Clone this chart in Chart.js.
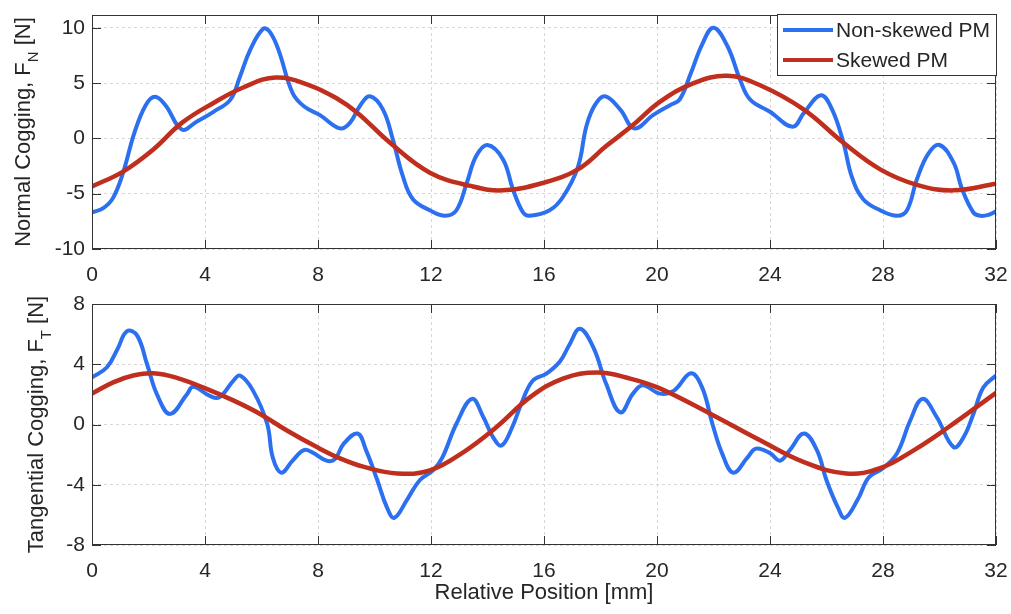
<!DOCTYPE html>
<html>
<head>
<meta charset="utf-8">
<title>Cogging force</title>
<script src="https://cdn.jsdelivr.net/npm/chart.js@4.4.1/dist/chart.umd.min.js"></script>
<style>
  body { margin: 0; background: #fff; }
  #wrap { position: relative; width: 1011px; height: 614px; background: #fff; }
  canvas { position: absolute; left: 0; }
</style>
</head>
<body>
<div id="wrap">
  <canvas id="normalChart" width="1011" height="290" style="top:0"></canvas>
  <canvas id="tangChart" width="1011" height="324" style="top:290px"></canvas>
</div>
<script>
// axis ticks
const xTicks = [0, 4, 8, 12, 16, 20, 24, 28, 32];
const normalTicks = [-10, -5, 0, 5, 10];
const tangTicks = [-8, -4, 0, 4, 8];
const seriesNames = ['Non-skewed PM', 'Skewed PM'];

// normal cogging, non-skewed magnets
const normalPos = [0, 0.4, 0.74, 1.1, 1.5, 1.9, 2.23, 2.6, 3.18, 3.7, 4.3, 4.9, 5.24, 5.6, 6.06, 6.3, 6.6, 7.1, 7.5, 8.07, 8.78, 9.13, 9.5, 9.84, 10.3, 10.65, 11.0, 11.36, 11.96, 12.5, 12.9, 13.27, 13.6, 14.0, 14.55, 14.9, 15.26, 15.5, 16.2, 16.67, 17.2, 17.5, 17.8, 18.16, 18.7, 19.2, 19.86, 20.46, 20.8, 21.2, 21.6, 22.0, 22.5, 22.94, 23.3, 24.0, 24.8, 25.2, 25.8, 26.2, 26.6, 26.9, 27.3, 27.9, 28.5, 28.85, 29.2, 29.6, 30.0, 30.5, 30.8, 31.2, 31.45, 31.75, 32];
const normalNonSkewed = [-6.7, -6.3, -5.4, -3.1, 0.5, 3.0, 3.76, 3.0, 0.8, 1.5, 2.4, 3.5, 5.6, 8.0, 9.9, 9.6, 8.0, 4.1, 2.9, 2.1, 0.9, 1.4, 3.0, 3.8, 2.6, -0.1, -3.4, -5.5, -6.5, -7.0, -6.5, -4.0, -1.6, -0.6, -1.9, -4.6, -6.7, -7.0, -6.5, -5.3, -2.6, 1.1, 3.0, 3.8, 2.6, 0.9, 2.1, 3.0, 3.5, 5.9, 8.5, 10.0, 8.3, 5.3, 3.5, 2.4, 1.05, 2.3, 3.9, 2.6, -0.4, -3.5, -5.5, -6.5, -7.0, -6.5, -3.7, -1.4, -0.6, -2.2, -4.6, -6.7, -7.0, -6.9, -6.6];

// normal cogging, skewed magnets
const normalSkewedPos = [0, 1.1, 2.17, 3.18, 4.3, 5.35, 6.5, 7.7, 8.67, 9.4, 10.55, 11.96, 13.4, 14.55, 16.0, 17.2, 18.2, 19.15, 20.1, 21.3, 22.5, 23.65, 25.2, 26.6, 27.9, 29.2, 30.5, 32];
const normalSkewed = [-4.35, -3.0, -1.0, 1.4, 3.2, 4.6, 5.5, 4.8, 3.6, 2.3, -0.4, -3.1, -4.3, -4.7, -4.0, -2.8, -0.7, 1.2, 3.3, 5.0, 5.65, 4.8, 2.6, -0.4, -2.8, -4.2, -4.7, -4.1];

// tangential cogging, non-skewed magnets
const tangPos = [0, 0.53, 0.9, 1.24, 1.6, 1.95, 2.3, 2.76, 3.36, 3.58, 4.17, 4.5, 5.0, 5.24, 5.7, 6.2, 6.4, 6.7, 7.1, 7.5, 7.8, 8.3, 8.6, 8.9, 9.4, 9.7, 10.1, 10.44, 10.7, 11.15, 11.6, 12.07, 12.4, 12.9, 13.45, 13.85, 14.2, 14.5, 14.87, 15.2, 15.6, 16.1, 16.57, 16.9, 17.27, 17.75, 18.2, 18.7, 19.15, 19.5, 20.1, 20.6, 21.2, 21.6, 21.96, 22.3, 22.7, 23.2, 23.5, 24.0, 24.35, 24.7, 25.2, 25.66, 26.0, 26.4, 26.65, 27.1, 27.5, 28.0, 28.5, 28.96, 29.4, 29.9, 30.5, 30.85, 31.2, 31.55, 32];
const tangNonSkewed = [3.13, 3.8, 5.0, 6.2, 5.9, 4.0, 2.0, 0.7, 2.0, 2.5, 1.9, 1.8, 2.9, 3.25, 2.25, 0.05, -2.2, -3.2, -2.4, -1.7, -1.85, -2.4, -2.3, -1.3, -0.6, -1.7, -3.7, -5.5, -6.2, -5.0, -3.7, -3.05, -2.2, 0.05, 1.7, 0.5, -0.85, -1.4, -0.2, 1.4, 2.9, 3.4, 4.2, 5.3, 6.35, 5.1, 2.7, 0.8, 2.05, 2.6, 2.05, 2.25, 3.4, 2.45, 0.05, -1.9, -3.2, -2.2, -1.6, -1.9, -2.4, -1.7, -0.6, -1.7, -3.7, -5.5, -6.2, -5.0, -3.5, -2.9, -1.9, 0.25, 1.7, 0.5, -1.5, -0.85, 0.7, 2.45, 3.25];

// tangential cogging, skewed magnets
const tangSkewedPos = [0, 0.75, 1.46, 2.17, 3.0, 3.95, 5.0, 5.95, 6.9, 7.96, 8.78, 9.6, 10.8, 11.96, 13.1, 14.3, 15.5, 16.67, 17.9, 19.05, 20.1, 21.9, 23.65, 25.2, 26.7, 27.9, 29.1, 30.3, 32];
const tangSkewed = [2.05, 2.8, 3.25, 3.4, 3.1, 2.45, 1.6, 0.7, -0.4, -1.5, -2.25, -2.8, -3.25, -3.05, -1.9, -0.2, 1.8, 3.05, 3.45, 3.05, 2.4, 0.7, -1.05, -2.5, -3.25, -2.9, -1.7, -0.2, 2.1];

const BLUE = 'rgb(44, 112, 240)';
const RED = 'rgb(192, 46, 30)';
const INK = '#262626';
const FONT = '"Liberation Sans", Arial, Helvetica, sans-serif';

function pts(xs, ys) {
    return xs.map((x, i) => ({ x: x, y: ys[i] }));
}

function tickList(values) {
    return function (scale) {
        scale.ticks = values.map(v => ({ value: v }));
    };
}

// rotated y label with a subscript, plus the boxed frame with inward ticks
const framePlugin = {
    id: 'frame',
    afterDatasetsDraw(chart, args, opts) {
        const ctx = chart.ctx;
        const a = chart.chartArea;
        const xs = chart.scales.x;
        const ys = chart.scales.y;
        const len = 9;
        ctx.save();
        ctx.strokeStyle = '#333';
        ctx.lineWidth = 1;
        ctx.beginPath();
        xs.ticks.forEach(t => {
            const px = Math.round(xs.getPixelForValue(t.value)) + 0.5;
            ctx.moveTo(px, a.bottom); ctx.lineTo(px, a.bottom - len);
            ctx.moveTo(px, a.top); ctx.lineTo(px, a.top + len);
        });
        ys.ticks.forEach(t => {
            const py = Math.round(ys.getPixelForValue(t.value)) + 0.5;
            ctx.moveTo(a.left, py); ctx.lineTo(a.left + len, py);
            ctx.moveTo(a.right, py); ctx.lineTo(a.right - len, py);
        });
        ctx.stroke();
        ctx.strokeRect(Math.round(a.left) + 0.5, Math.round(a.top) + 0.5,
            Math.round(a.width) - 1, Math.round(a.height) - 1);
        ctx.restore();
    },
    afterDraw(chart, args, opts) {
        const ctx = chart.ctx;
        const a = chart.chartArea;

        // y axis title
        const t = opts.title;
        ctx.save();
        ctx.fillStyle = INK;
        ctx.textBaseline = 'alphabetic';
        ctx.translate(opts.titleX, (a.top + a.bottom) / 2);
        ctx.rotate(-Math.PI / 2);
        ctx.font = '22px ' + FONT;
        const w1 = ctx.measureText(t[0]).width;
        const w3 = ctx.measureText(t[2]).width;
        ctx.font = '15px ' + FONT;
        const w2 = ctx.measureText(t[1]).width;
        let x0 = -(w1 + w2 + w3) / 2;
        ctx.font = '22px ' + FONT;
        ctx.fillText(t[0], x0, 0);
        ctx.font = '15px ' + FONT;
        ctx.fillText(t[1], x0 + w1, 8);
        ctx.font = '22px ' + FONT;
        ctx.fillText(t[2], x0 + w1 + w2, 0);
        ctx.restore();

        if (!opts.legend) return;
        // legend box in the top right corner
        const box = { left: 777, top: 14, right: 997, bottom: 76 };
        ctx.save();
        ctx.fillStyle = '#fff';
        ctx.fillRect(box.left, box.top, box.right - box.left, box.bottom - box.top);
        ctx.strokeStyle = '#333';
        ctx.lineWidth = 1;
        ctx.strokeRect(box.left + 0.5, box.top + 0.5, box.right - box.left - 1, box.bottom - box.top - 1);
        ctx.font = '21px ' + FONT;
        ctx.textBaseline = 'middle';
        const rows = [30, 60];
        const order = chart.data.datasets.slice().sort((p, q) => seriesNames.indexOf(p.label) - seriesNames.indexOf(q.label));
        order.forEach((ds, i) => {
            ctx.strokeStyle = ds.borderColor;
            ctx.lineWidth = 4;
            ctx.beginPath();
            ctx.moveTo(783, rows[i]);
            ctx.lineTo(833, rows[i]);
            ctx.stroke();
            ctx.fillStyle = INK;
            ctx.fillText(ds.label, 836, rows[i] + 1);
        });
        ctx.restore();
    }
};

function makeChart(id, opts) {
    const ctx = document.getElementById(id).getContext('2d');
    return new Chart(ctx, {
        type: 'line',
        data: {
            datasets: [{
                label: seriesNames[0],
                data: opts.nonSkewed,
                borderColor: BLUE,
                borderWidth: 4,
                pointRadius: 0,
                tension: 0.4,
                order: 2
            }, {
                label: seriesNames[1],
                data: opts.skewed,
                borderColor: RED,
                borderWidth: 4.5,
                pointRadius: 0,
                tension: 0.4,
                order: 1
            }]
        },
        plugins: [framePlugin],
        options: {
            responsive: false,
            animation: false,
            devicePixelRatio: 1,
            layout: { padding: { top: opts.padTop, right: 15, left: 0, bottom: 0 } },
            plugins: {
                legend: { display: false },
                tooltip: { enabled: false },
                frame: { title: opts.title, titleX: opts.titleX, legend: opts.legend }
            },
            scales: {
                x: {
                    type: 'linear',
                    min: 0,
                    max: 32,
                    afterBuildTicks: tickList(xTicks),
                    afterFit(scale) {
                        // keep the plot box fixed, labels may hang over the padding
                        scale.height = opts.xHeight;
                        scale.paddingLeft = 0;
                        scale.paddingRight = 0;
                    },
                    grid: { color: '#d8d8d8', drawTicks: false },
                    border: { display: false, dash: [3, 3] },
                    ticks: { color: INK, font: { family: FONT, size: 21 }, padding: 14, maxRotation: 0 },
                    title: opts.xTitle ? {
                        display: true,
                        text: opts.xTitle,
                        color: INK,
                        font: { family: FONT, size: 22 },
                        padding: { top: 0, bottom: 8 }
                    } : { display: false }
                },
                y: {
                    min: opts.yMin,
                    max: opts.yMax,
                    afterBuildTicks: tickList(opts.yTicks),
                    afterFit(scale) {
                        scale.width = 92;
                        scale.paddingTop = 0;
                        scale.paddingBottom = 0;
                    },
                    grid: { color: '#d8d8d8', drawTicks: false },
                    border: { display: false, dash: [3, 3] },
                    ticks: { color: INK, font: { family: FONT, size: 21 }, padding: 7 }
                }
            }
        }
    });
}

makeChart('normalChart', {
    nonSkewed: pts(normalPos, normalNonSkewed),
    skewed: pts(normalSkewedPos, normalSkewed),
    yMin: -10, yMax: 11.15, yTicks: normalTicks,
    padTop: 15, xHeight: 41,
    title: ['Normal Cogging, F', 'N', ' [N]'], titleX: 30,
    legend: true
});

makeChart('tangChart', {
    nonSkewed: pts(tangPos, tangNonSkewed),
    skewed: pts(tangSkewedPos, tangSkewed),
    yMin: -8, yMax: 8, yTicks: tangTicks,
    padTop: 14, xHeight: 69,
    xTitle: 'Relative Position [mm]',
    title: ['Tangential Cogging, F', 'T', ' [N]'], titleX: 43,
    legend: false
});
</script>
</body>
</html>
